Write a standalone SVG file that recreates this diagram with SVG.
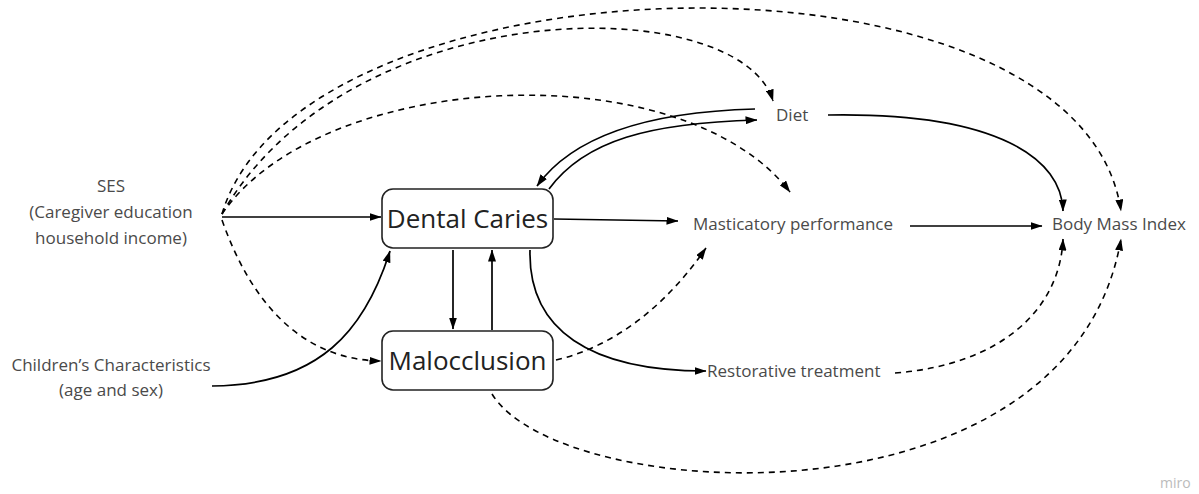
<svg xmlns="http://www.w3.org/2000/svg" width="1199" height="494" viewBox="0 0 1199 494">
<style>
.lbl{font-family:"Open Sans","Liberation Sans",sans-serif;font-size:17px;fill:#4a4a4a}
.box{fill:#fff;stroke:#222;stroke-width:1.6}
.boxt{font-family:"Open Sans","Liberation Sans",sans-serif;font-size:26px;fill:#222}
.s{fill:none;stroke:#000;stroke-width:1.7}
.d{fill:none;stroke:#000;stroke-width:1.6;stroke-dasharray:6 5}
.miro{font-family:"Open Sans","Liberation Sans",sans-serif;font-size:14px;fill:#bbb}
</style>
<defs>
<marker id="ah" viewBox="0 0 12 8" refX="11.5" refY="4" markerWidth="12" markerHeight="8" markerUnits="userSpaceOnUse" orient="auto">
<path d="M0,0 L12,4 L0,8 Z" fill="#000"/>
</marker>
</defs>
<rect width="1199" height="494" fill="#fff"/>
<g id="connectors">
<path class="s" d="M222,217 L381,217" marker-end="url(#ah)"/>
<path class="d" d="M222,220 C250,300 300,360 381,361" marker-end="url(#ah)"/>
<path class="s" d="M212,386 C320,385 365,330 390,251" marker-end="url(#ah)"/>
<path class="d" d="M222,214 C300,-50 1080,-70 1121,211" marker-end="url(#ah)"/>
<path class="d" d="M222,214 C350,-10 740,-10 773,101" marker-end="url(#ah)"/>
<path class="d" d="M222,214 C320,70 680,50 790,192" marker-end="url(#ah)"/>
<path class="s" d="M755,109 C640,112 570,140 537,186" marker-end="url(#ah)"/>
<path class="s" d="M549,189 C585,140 650,123 757,120" marker-end="url(#ah)"/>
<path class="s" d="M554,219 L678,221" marker-end="url(#ah)"/>
<path class="s" d="M828,115 C1000,112 1062,160 1063,211" marker-end="url(#ah)"/>
<path class="s" d="M910,226 L1042,226" marker-end="url(#ah)"/>
<path class="s" d="M453,250 L453,329" marker-end="url(#ah)"/>
<path class="s" d="M492,330 L492,250" marker-end="url(#ah)"/>
<path class="s" d="M530,250 C528,330 590,371 706,371" marker-end="url(#ah)"/>
<path class="d" d="M556,360 C620,345 670,300 706,248" marker-end="url(#ah)"/>
<path class="d" d="M895,373 C1000,365 1060,310 1063,239" marker-end="url(#ah)"/>
<path class="d" d="M492,394 C560,505 1070,535 1121,239" marker-end="url(#ah)"/>
</g>
<g id="ses">
<text class="lbl" text-anchor="middle" x="111" y="192">SES</text>
<text class="lbl" text-anchor="middle" x="111" y="218">(Caregiver education</text>
<text class="lbl" text-anchor="middle" x="111" y="244">household income)</text>
</g>
<g id="children">
<text class="lbl" text-anchor="middle" x="111" y="371">Children’s Characteristics</text>
<text class="lbl" text-anchor="middle" x="111" y="396">(age and sex)</text>
</g>
<g id="dental-caries">
<rect class="box" x="382" y="189" width="171" height="59" rx="11"/>
<text class="boxt" text-anchor="middle" x="467.5" y="228">Dental Caries</text>
</g>
<g id="malocclusion">
<rect class="box" x="382" y="331" width="171" height="59" rx="11"/>
<text class="boxt" text-anchor="middle" x="467.5" y="370">Malocclusion</text>
</g>
<g id="diet">
<text class="lbl" x="776" y="121">Diet</text>
</g>
<g id="masticatory">
<text class="lbl" x="693" y="230">Masticatory performance</text>
</g>
<g id="bmi">
<text class="lbl" x="1052" y="230">Body Mass Index</text>
</g>
<g id="restorative">
<text class="lbl" x="707" y="377">Restorative treatment</text>
</g>
<text class="miro" x="1160" y="488">miro</text>
</svg>
